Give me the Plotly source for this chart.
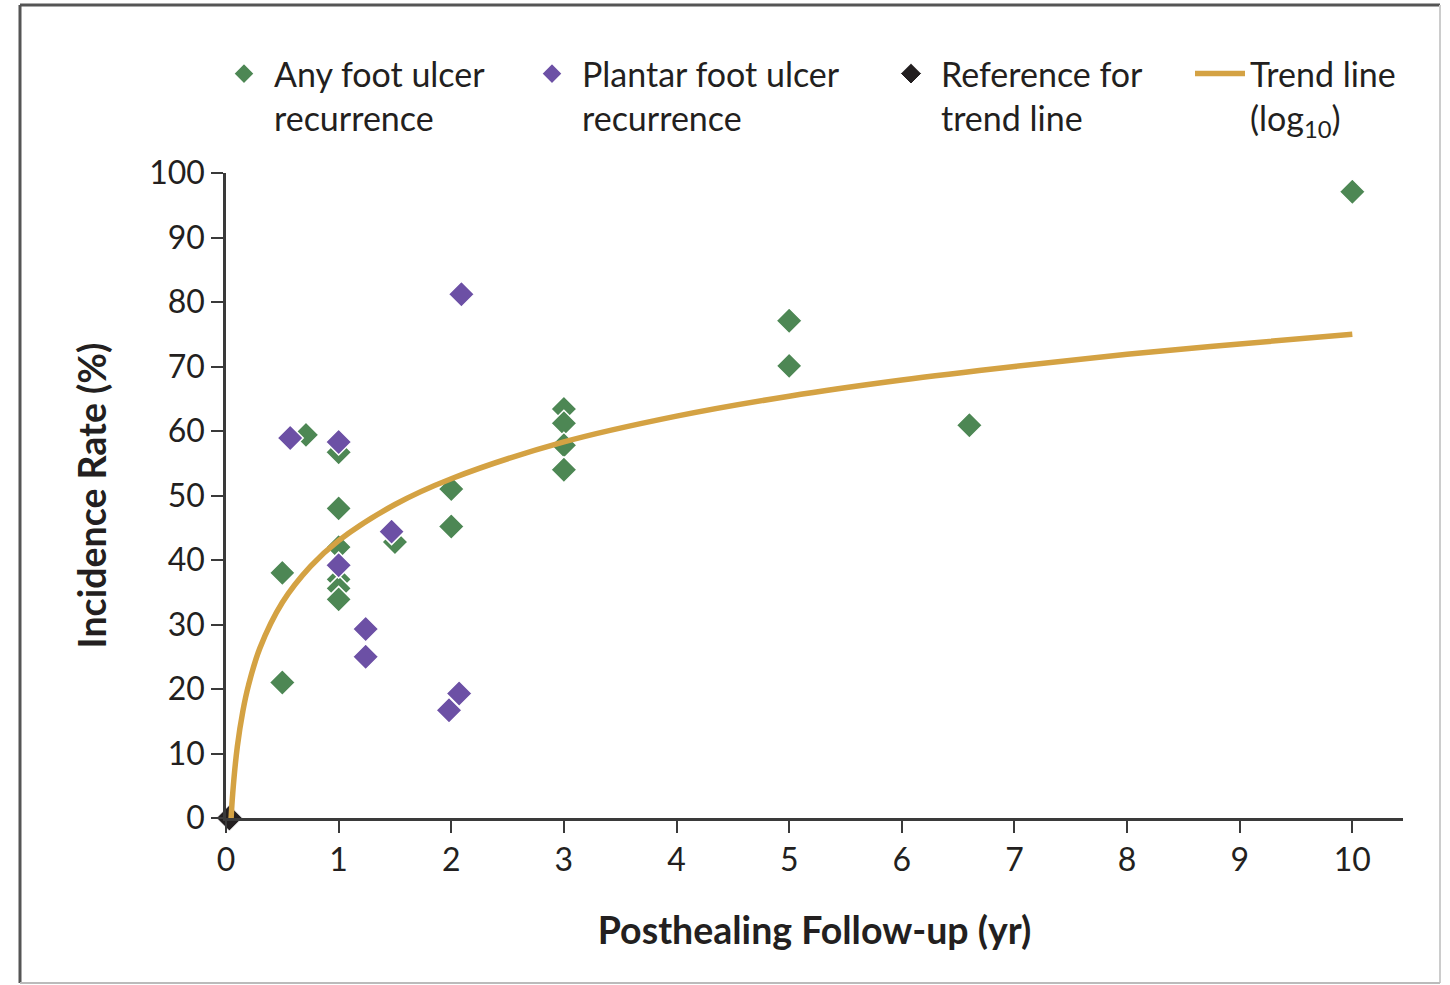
import plotly.graph_objects as go

# ---- data ----
any_x = [0.5, 0.5, 0.71, 1, 1, 1, 1, 1, 1, 1.5, 2, 2, 3, 3, 3, 3, 5, 5, 6.6, 10]
any_y = [38, 21, 59.4, 56.7, 48, 42, 37, 35.6, 33.9, 42.8, 51, 45.2, 63.4, 61.2, 57.8, 54, 77.1, 70.1, 60.9, 97.1]

plantar_x = [0.57, 1, 1, 1.24, 1.24, 1.47, 1.98, 2.07, 2.09]
plantar_y = [58.9, 58.3, 39.2, 29.3, 25.0, 44.4, 16.7, 19.3, 81.2]

ref_x = [0.03]
ref_y = [0]

trend_x = [0.04, 0.06, 0.1, 0.15, 0.2, 0.3, 0.5, 0.75, 1, 1.5, 2, 3, 4, 5, 6, 7, 8, 9, 10]
trend_y = [-1.7, 3.9, 11, 16.6, 20.6, 26.3, 33.4, 39, 43, 48.6, 52.6, 58.3, 62.3, 65.4, 67.9, 70, 71.9, 73.5, 75]

x_ticks = [0, 1, 2, 3, 4, 5, 6, 7, 8, 9, 10]
y_ticks = [0, 10, 20, 30, 40, 50, 60, 70, 80, 90, 100]

names = ["Any foot ulcer<br>recurrence", "Plantar foot ulcer<br>recurrence",
         "Reference for<br>trend line", "Trend line<br>(log<sub>10</sub>)"]

GREEN = "#4d8754"
PURPLE = "#6c50a5"
BLACK = "#231f20"
GOLD = "#d4a243"
FONT = "Lato"
TXT = "#231f20"
AX = "#3a3a3a"

fig = go.Figure()
fig.add_trace(go.Scatter(x=any_x, y=any_y, mode="markers", name=names[0], legend="legend",
                         showlegend=True,
                         marker=dict(symbol="diamond", size=20, color=GREEN,
                                     line=dict(color="white", width=1.5)), cliponaxis=False))
fig.add_trace(go.Scatter(x=plantar_x, y=plantar_y, mode="markers", name=names[1], legend="legend2",
                         showlegend=True,
                         marker=dict(symbol="diamond", size=20, color=PURPLE,
                                     line=dict(color="white", width=1.5)), cliponaxis=False))
fig.add_trace(go.Scatter(x=ref_x, y=ref_y, mode="markers", name=names[2], legend="legend3",
                         showlegend=True,
                         marker=dict(symbol="diamond", size=20, color=BLACK,
                                     line=dict(color="white", width=1)), cliponaxis=False))
fig.add_trace(go.Scatter(x=trend_x, y=trend_y, mode="lines", name=names[3], legend="legend4",
                         showlegend=True,
                         line=dict(color=GOLD, width=5.5, shape="spline")))

# plot-area pixel geometry (page coordinates)
L, R, T, B = 226, 1403, 173, 818
PW, PH = R - L, B - T

def px_x(p):
    return (p - L) / float(PW)

def px_y(p):
    return (B - p) / float(PH)

IW = 50  # legend item width
leg_common = dict(orientation="v", yanchor="top", xanchor="left", y=px_y(45),
                  font=dict(family=FONT, size=34, color=TXT), valign="top",
                  bgcolor="rgba(0,0,0,0)", borderwidth=0, itemwidth=IW,
                  tracegroupgap=0)
fig.update_layout(
    showlegend=True,
    legend=dict(x=px_x(244 - 30), **leg_common),
    legend2=dict(x=px_x(552 - 30), **leg_common),
    legend3=dict(x=px_x(911 - 30), **leg_common),
    legend4=dict(x=px_x(1250 - 60), **leg_common),
)

fig.update_layout(
    width=1450, height=985,
    margin=dict(l=L, r=1450 - R, t=T, b=985 - B, autoexpand=False),
    paper_bgcolor="white", plot_bgcolor="white",
    font=dict(family=FONT, color=TXT),
    xaxis=dict(range=[0, 10.45], tickvals=x_ticks, ticktext=[str(v) for v in x_ticks],
               showgrid=False, zeroline=False, showline=True, linecolor=AX, linewidth=2.5,
               ticks="outside", ticklen=12, tickwidth=2, tickcolor=AX,
               tickfont=dict(family=FONT, size=32, color=TXT),
               title=dict(text="<b>Posthealing Follow-up (yr)</b>", standoff=41,
                          font=dict(family=FONT, size=37.5, color=TXT)),
               automargin=False),
    yaxis=dict(range=[0, 100], tickvals=y_ticks, ticktext=[str(v) for v in y_ticks],
               showgrid=False, zeroline=False, showline=True, linecolor=AX, linewidth=2.5,
               ticks="outside", ticklen=12, tickwidth=2, tickcolor=AX,
               tickfont=dict(family=FONT, size=32, color=TXT),
               title=dict(text="<b>Incidence Rate (%)</b>", standoff=32,
                          font=dict(family=FONT, size=37.5, color=TXT)),
               automargin=False),
)

# outer frame of the figure panel
fx0, fx1, fy0, fy1 = px_x(20), px_x(1440), px_y(983), px_y(5)
fig.add_shape(type="line", xref="paper", yref="paper", x0=fx0, x1=fx1, y0=fy1, y1=fy1,
              line=dict(color="#555555", width=3))
fig.add_shape(type="line", xref="paper", yref="paper", x0=fx0, x1=fx0, y0=fy0, y1=fy1,
              line=dict(color="#555555", width=3))
fig.add_shape(type="line", xref="paper", yref="paper", x0=fx1, x1=fx1, y0=fy0, y1=fy1,
              line=dict(color="#cccccc", width=2))
fig.add_shape(type="line", xref="paper", yref="paper", x0=fx0, x1=fx1, y0=fy0, y1=fy0,
              line=dict(color="#bbbbbb", width=2))

fig.write_html("out.html", config={"displayModeBar": False},
               post_script="document.body.style.margin='0';")
